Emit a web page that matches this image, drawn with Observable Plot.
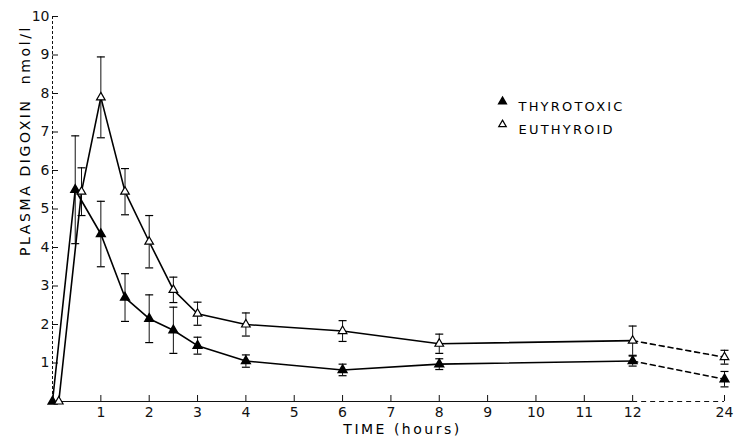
<!DOCTYPE html>
<html><head><meta charset="utf-8">
<script src="https://cdn.jsdelivr.net/npm/d3@7"></script>
<script src="https://cdn.jsdelivr.net/npm/@observablehq/plot@0.6"></script>
<style>body{margin:0;background:#fff}</style>
</head><body><div id="chart"></div>
<script>
const thyroTime = [0, 0.47, 1, 1.5, 2, 2.5, 3, 4, 6, 8, 12, 24];
const thyroMean = [0, 5.5, 4.35, 2.7, 2.15, 1.85, 1.45, 1.05, 0.82, 0.97, 1.05, 0.58];
const thyroErr  = [0, 1.4, 0.85, 0.62, 0.62, 0.6, 0.22, 0.16, 0.15, 0.14, 0.13, 0.2];
const euthTime  = [0.13, 0.6, 1, 1.5, 2, 2.5, 3, 4, 6, 8, 12, 24];
const euthMean  = [0, 5.45, 7.9, 5.45, 4.15, 2.9, 2.28, 2.0, 1.83, 1.5, 1.58, 1.15];
const euthErr   = [0, 0.62, 1.05, 0.6, 0.68, 0.33, 0.3, 0.3, 0.27, 0.25, 0.38, 0.18];
const xTicks = [1, 2, 3, 4, 5, 6, 7, 8, 9, 10, 11, 12, 24];
const yTicks = [1, 2, 3, 4, 5, 6, 7, 8, 9, 10];
const breakAt = 12;     // axis is broken after 12 h
const breakSpan = 1.9;  // drawn width (in hours) of the 12–24 h segment
const seriesNames = ["THYROTOXIC", "EUTHYROID"];
const yTitle = "PLASMA DIGOXIN  nmol/l";
const xTitle = "TIME (hours)";

// broken time axis: hours beyond 12 are compressed
const tx = t => t <= breakAt ? t : breakAt + (t - breakAt) * breakSpan / (24 - breakAt);

const rows = [];
thyroTime.forEach((t, i) => rows.push({s: seriesNames[0], t: tx(t), v: thyroMean[i], e: thyroErr[i]}));
euthTime.forEach((t, i) => rows.push({s: seriesNames[1], t: tx(t), v: euthMean[i], e: euthErr[i]}));
const solid = rows.filter(d => d.t <= breakAt);
const dashed = rows.filter(d => d.t >= breakAt);
const bars = rows.filter(d => d.e > 0);
const tickPos = xTicks.map(tx);
const tickLabel = new Map(xTicks.map(t => [tx(t), String(t)]));

const cap = {draw(ctx) { ctx.moveTo(-4, 0); ctx.lineTo(4, 0); }};
const font = "DejaVu Sans, sans-serif";

const chart = Plot.plot({
  width: 736, height: 442,
  marginLeft: 52, marginRight: 12, marginTop: 16, marginBottom: 41,
  style: {fontFamily: font, fontSize: "14px", color: "#111", background: "#fff"},
  x: {domain: [0, tx(24)], axis: null},
  y: {domain: [0, 10], axis: null},
  marks: [
    Plot.ruleX([0], {strokeDasharray: "3,2", strokeWidth: 1}),
    Plot.ruleY([0], {x1: 0, x2: tx(breakAt), strokeWidth: 1.2}),
    Plot.ruleY([0], {x1: tx(breakAt), x2: tx(24), strokeWidth: 1.2, strokeDasharray: "5,4"}),
    Plot.axisY({ticks: yTicks, tickSize: 0, tickPadding: 3, label: null, fontSize: 14}),
    Plot.axisY({ticks: yTicks, tickSize: 6, dx: 6, text: null, label: null}),
    Plot.axisX({ticks: tickPos, tickFormat: d => tickLabel.get(d), tickSize: 0, tickPadding: 6, label: null, fontSize: 14}),
    Plot.axisX({ticks: tickPos, tickSize: 6, dy: -6, text: null, label: null}),
    Plot.ruleX(bars, {x: "t", y1: d => d.v - d.e, y2: d => d.v + d.e, strokeWidth: 1}),
    Plot.dot(bars, {x: "t", y: d => d.v + d.e, symbol: cap, stroke: "black", strokeWidth: 1.2, fill: "none"}),
    Plot.dot(bars, {x: "t", y: d => d.v - d.e, symbol: cap, stroke: "black", strokeWidth: 1.2, fill: "none"}),
    Plot.line(solid, {x: "t", y: "v", z: "s", stroke: "black", strokeWidth: 1.6}),
    Plot.line(dashed, {x: "t", y: "v", z: "s", stroke: "black", strokeWidth: 1.6, strokeDasharray: "5,4"}),
    Plot.dot(rows.filter(d => d.s === seriesNames[0]), {x: "t", y: "v", symbol: "triangle", r: 3.2, fill: "black", stroke: "black"}),
    Plot.dot(rows.filter(d => d.s === seriesNames[1]), {x: "t", y: "v", symbol: "triangle", r: 3.2, fill: "white", stroke: "black", strokeWidth: 1.2}),
    // legend
    Plot.dot([seriesNames[0]], {frameAnchor: "top-left", dx: 450, dy: 85, symbol: "triangle", r: 2.8, fill: "black", stroke: "black"}),
    Plot.dot([seriesNames[1]], {frameAnchor: "top-left", dx: 450, dy: 108, symbol: "triangle", r: 2.8, fill: "white", stroke: "black", strokeWidth: 1.2}),
    Plot.text([seriesNames[0]], {frameAnchor: "top-left", dx: 466, dy: 85, text: d => d, textAnchor: "start", fontSize: 13, fill: "black"}),
    Plot.text([seriesNames[1]], {frameAnchor: "top-left", dx: 466, dy: 108, text: d => d, textAnchor: "start", fontSize: 13, fill: "black"}),
    // axis titles
    Plot.text([yTitle], {frameAnchor: "top-left", dx: -32, dy: 124, rotate: -90, text: d => d, textAnchor: "middle", fontSize: 14, fill: "black"}),
    Plot.text([xTitle], {frameAnchor: "bottom", dx: 14, dy: 32, text: d => d, textAnchor: "middle", fontSize: 14, fill: "black"})
  ]
});
// letter spacing for the typeset-looking labels
const spacing = new Map([[seriesNames[0], 2.2], [seriesNames[1], 2.2], [yTitle, 2.6], [xTitle, 2.5]]);
d3.select(chart).selectAll("text").each(function() {
  const s = spacing.get(this.textContent);
  if (s !== undefined) this.setAttribute("letter-spacing", s + "px");
});
document.getElementById("chart").append(chart);
</script>
</body></html>
